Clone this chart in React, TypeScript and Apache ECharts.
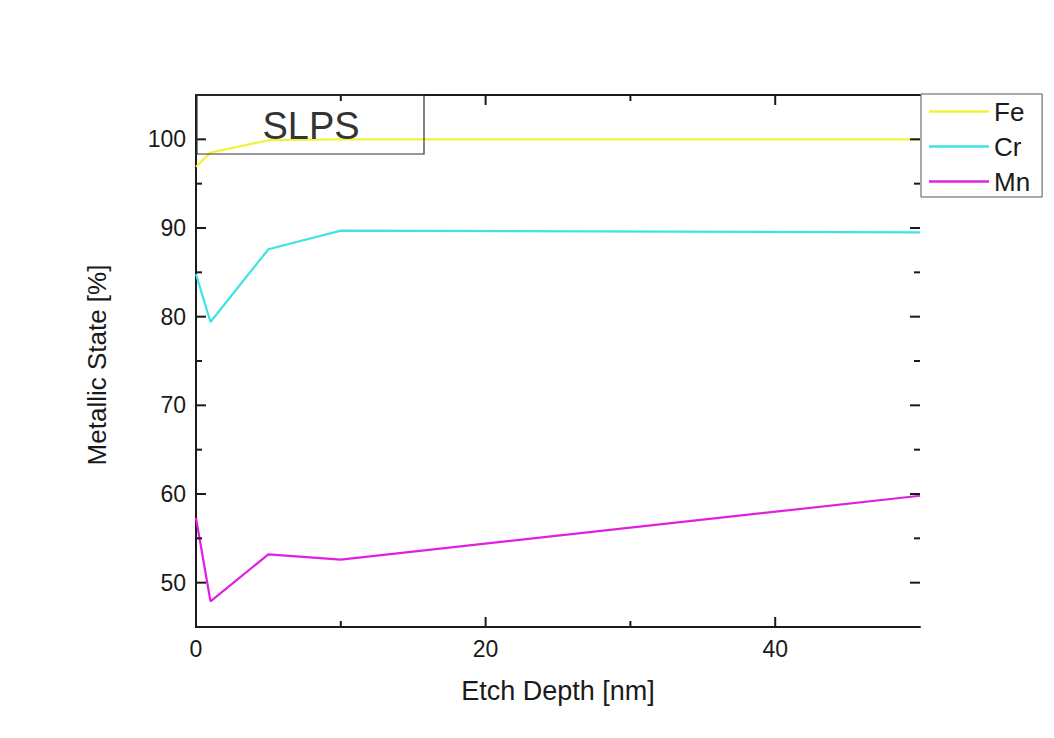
import React, { useEffect, useRef } from "react";
import * as echarts from "echarts";

const seriesNames = ["Fe", "Cr", "Mn"];
const feData: [number, number][] = [[0, 96.9], [1, 98.5], [5, 99.9], [10, 100], [50, 100]];
const crData: [number, number][] = [[0, 84.8], [1, 79.4], [5, 87.6], [10, 89.7], [50, 89.5]];
const mnData: [number, number][] = [[0, 57.3], [1, 47.9], [5, 53.2], [10, 52.6], [50, 59.8]];
const xMajor = [0, 20, 40];
const xMinor = [10, 30];
const yMajor = [50, 60, 70, 80, 90, 100];
const yMinor = [55, 65, 75, 85, 95];
const colors = ["#f2f23a", "#3fe3e3", "#e020e0"];

const X_MIN = 0;
const X_MAX = 50;
const Y_MIN = 45;
const Y_MAX = 105;

const FONT = "Liberation Sans";
const INK = "#1a1a1a";
const MAJOR_LEN = 10;
const MINOR_LEN = 6;

export default function App() {
  const ref = useRef<HTMLDivElement>(null);
  useEffect(() => {
    const chart = echarts.init(ref.current!, null, { renderer: "svg" });
    const line = { show: true, lineStyle: { color: INK, width: 2 } };
    const datasets = [feData, crData, mnData];

    // tick items: [value, kind (0 = x, 1 = y), length]
    const tickItems: number[][] = [
      ...xMajor.map((v) => [v, 0, MAJOR_LEN]),
      ...xMinor.map((v) => [v, 0, MINOR_LEN]),
      ...yMajor.map((v) => [v, 1, MAJOR_LEN]),
      ...yMinor.map((v) => [v, 1, MINOR_LEN]),
    ];
    const tStyle = { stroke: INK, lineWidth: 2 };

    chart.setOption({
      animation: false,
      backgroundColor: "#ffffff",
      grid: { left: 196, right: 134, top: 95, bottom: 111, containLabel: false },
      xAxis: [
        {
          type: "value",
          position: "bottom",
          min: X_MIN,
          max: X_MAX,
          axisLine: line,
          axisTick: { show: false },
          axisLabel: { show: true, customValues: xMajor, fontSize: 23, color: INK, fontFamily: FONT, margin: 10 },
          splitLine: { show: false },
          name: "Etch Depth [nm]",
          nameLocation: "middle",
          nameGap: 50,
          nameTextStyle: { fontSize: 27, color: INK, fontFamily: FONT },
        },
        {
          type: "value",
          position: "top",
          min: X_MIN,
          max: X_MAX,
          axisLine: line,
          axisTick: { show: false },
          axisLabel: { show: false },
          splitLine: { show: false },
        },
      ],
      yAxis: [
        {
          type: "value",
          position: "left",
          min: Y_MIN,
          max: Y_MAX,
          axisLine: line,
          axisTick: { show: false },
          axisLabel: { show: true, customValues: yMajor, fontSize: 23, color: INK, fontFamily: FONT, margin: 10 },
          splitLine: { show: false },
          name: "Metallic State [%]",
          nameLocation: "middle",
          nameGap: 86,
          nameTextStyle: { fontSize: 26, color: INK, fontFamily: FONT, padding: [0, 8, 0, 0] },
        },
        {
          type: "value",
          position: "right",
          min: Y_MIN,
          max: Y_MAX,
          axisLine: line,
          axisTick: { show: false },
          axisLabel: { show: false },
          splitLine: { show: false },
        },
      ],
      legend: {
        orient: "vertical",
        left: 921,
        top: 94,
        data: seriesNames.map((n) => ({ name: n, icon: "rect" })),
        itemWidth: 60,
        itemHeight: 2.5,
        itemGap: 8,
        padding: [4, 12, 2, 8],
        borderColor: "#555",
        borderWidth: 1,
        textStyle: { fontSize: 26, color: INK, fontFamily: FONT, lineHeight: 27 },
      },
      graphic: [
        {
          type: "rect",
          shape: { x: 197, y: 95, width: 227, height: 59 },
          style: { fill: "none", stroke: "#333", lineWidth: 1.2 },
          z: 10,
        },
        {
          type: "text",
          x: 311,
          y: 126,
          style: {
            text: "SLPS",
            fontSize: 38,
            fontFamily: FONT,
            fill: "#333",
            textAlign: "center",
            textVerticalAlign: "middle",
          },
          z: 10,
        },
      ],
      series: [
        ...seriesNames.map((n, i) => ({
          name: n,
          type: "line",
          data: datasets[i],
          xAxisIndex: 0,
          yAxisIndex: 0,
          symbol: "none",
          lineStyle: { color: colors[i], width: 2.2 },
          itemStyle: { color: colors[i] },
          z: 3,
        })),
        {
          name: "ticks",
          type: "custom",
          xAxisIndex: 0,
          yAxisIndex: 0,
          silent: true,
          clip: false,
          z: 5,
          encode: { x: -1, y: -1 },
          data: tickItems,
          renderItem: (_params: any, api: any) => {
            const v = api.value(0);
            const kind = api.value(1);
            const len = api.value(2);
            if (kind === 0) {
              const b = api.coord([v, Y_MIN]);
              const t = api.coord([v, Y_MAX]);
              return {
                type: "group",
                children: [
                  { type: "line", shape: { x1: b[0], y1: b[1], x2: b[0], y2: b[1] - len }, style: tStyle },
                  { type: "line", shape: { x1: t[0], y1: t[1], x2: t[0], y2: t[1] + len }, style: tStyle },
                ],
              };
            }
            const l = api.coord([X_MIN, v]);
            const r = api.coord([X_MAX, v]);
            return {
              type: "group",
              children: [
                { type: "line", shape: { x1: l[0], y1: l[1], x2: l[0] + len, y2: l[1] }, style: tStyle },
                { type: "line", shape: { x1: r[0], y1: r[1], x2: r[0] - len, y2: r[1] }, style: tStyle },
              ],
            };
          },
        },
      ],
    });
    return () => chart.dispose();
  }, []);
  return (
    <div
      ref={ref}
      style={{ position: "fixed", left: 0, top: 0, width: 1054, height: 738, background: "#fff" }}
    />
  );
}
